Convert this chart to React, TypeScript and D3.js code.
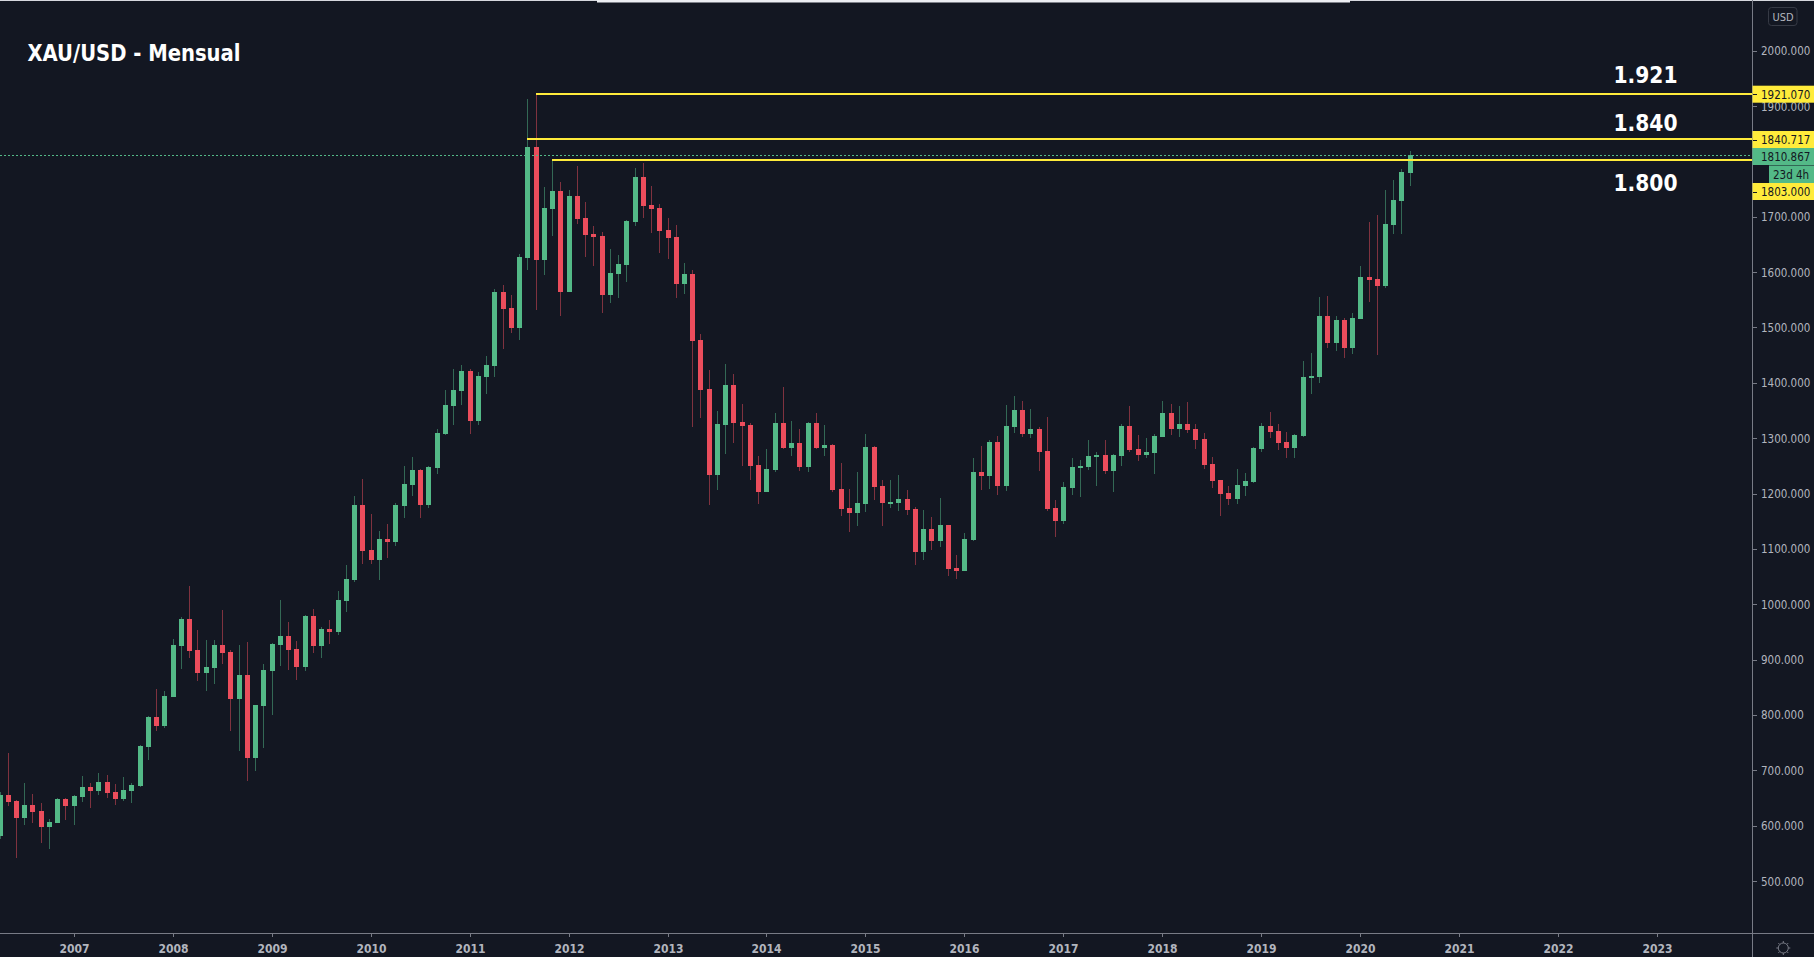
import React, { useEffect } from "react";
import * as d3 from "d3";

// Monthly candles, April 2006 to July 2020
const opens = [
  581, 655, 644.5, 614, 637.3, 626.4, 597.5, 604.7, 648,
  635.4, 651.7, 669.8, 662.5, 678.8, 660.7, 648, 662.5, 671.6, 742, 796.2, 780,
  832.4, 924.5, 973.3, 917.3, 875.7, 884.7, 926.3, 913.7, 828.7, 872.1, 722.2, 816,
  879.3, 926.3, 942.6, 919.1, 886.6, 978.7, 924.5, 955.2, 949.8, 1005.8, 1043.7, 1179.2,
  1097.9, 1079.9, 1117.8, 1112.4, 1177.4, 1215.3, 1242.4, 1179.2, 1246.1, 1307.5, 1358.1, 1385.2,
  1421.3, 1331, 1410.5, 1430.3, 1564, 1535, 1499, 1625.5, 1826, 1621.9, 1714, 1746.5,
  1564, 1737.5, 1697.7, 1668.8, 1665.2, 1558.6, 1596.6, 1612.8, 1690.5, 1771.8, 1721.2, 1715.8,
  1676, 1663.4, 1578.5, 1596.6, 1477.3, 1388.8, 1233.4, 1323.8, 1396, 1329.2, 1323.8, 1251.5,
  1202.7, 1242.5, 1327.4, 1282.2, 1291.3, 1247.9, 1327.4, 1282.2, 1287.6, 1208.1, 1173.8, 1164.8,
  1181.1, 1284, 1213.6, 1182.9, 1182.9, 1190.1, 1172, 1094.3, 1135.9, 1114.2, 1143.1, 1065.4,
  1060, 1116, 1238.9, 1231.6, 1293.1, 1213.5, 1320.1, 1350.8, 1307.5, 1316.5, 1276.8, 1173.8,
  1150.3, 1210, 1246.1, 1247.9, 1265.9, 1269.5, 1240.6, 1267.7, 1321.9, 1280.4, 1269.5, 1273.2,
  1302.1, 1345.4, 1316.5, 1325.5, 1316.5, 1298.4, 1253.3, 1224.4, 1200.9, 1190.1, 1213.5, 1220.8,
  1280.4, 1321.9, 1312.9, 1293, 1282.2, 1303.9, 1408.7, 1410.5, 1520.7, 1471.9, 1513.4, 1462.9,
  1515.2, 1591.1, 1587.5, 1574.9, 1685.1, 1728.4, 1779,
];
const highs = [
  660, 731, 646, 677, 657, 640.9, 612, 649.9, 649.9,
  655.3, 689.6, 677, 695, 691.4, 675.2, 687.8, 677, 745.6, 798, 846.8, 843.2,
  937.1, 976.9, 1033, 953.4, 935.3, 935.3, 989.5, 917.3, 926.3, 931.7, 818, 892,
  930, 1007.6, 967.9, 933.5, 980.5, 991.3, 958.8, 971.5, 1023.9, 1070.8, 1195.5, 1226.2,
  1162.9, 1132.2, 1144.9, 1182.8, 1249.7, 1265.9, 1244.3, 1249.7, 1316.5, 1387, 1424.9, 1432.1,
  1424.9, 1419.5, 1448.4, 1569.4, 1576.7, 1558.6, 1632.7, 1912.7, 1921.7, 1753.7, 1802.5, 1762.8,
  1748.3, 1791.7, 1726.6, 1683.3, 1672.4, 1641.7, 1630.9, 1694.1, 1788.1, 1797.1, 1755.5, 1723,
  1697.7, 1685.1, 1616.4, 1603.8, 1488.1, 1423.1, 1349, 1434, 1415.9, 1361.7, 1327.4, 1267.8,
  1280.4, 1345.5, 1392.4, 1331, 1316.5, 1329.2, 1345.5, 1323.8, 1289.4, 1255.1, 1208.1, 1238.9,
  1307.5, 1285.8, 1224.4, 1224.4, 1233.4, 1206.3, 1175.6, 1170.2, 1157.6, 1191.9, 1143.1, 1088.9,
  1128.7, 1264.2, 1285.8, 1296.7, 1303.9, 1359.9, 1376.1, 1367.1, 1352.6, 1320.1, 1338.2, 1188.2,
  1220.8, 1264.1, 1260.5, 1296.6, 1275, 1296.6, 1271.3, 1325.5, 1358.1, 1305.7, 1300.3, 1307.5,
  1367.1, 1361.7, 1358.1, 1365.3, 1325.5, 1309.3, 1265.9, 1224.4, 1213.5, 1244.2, 1237, 1284,
  1327.3, 1347.2, 1325.5, 1311.1, 1307.5, 1439.4, 1453.8, 1555, 1556.8, 1520.7, 1517, 1526.1,
  1611, 1690.5, 1703.1, 1748.3, 1766.4, 1786.2, 1818.8,
];
const lows = [
  575, 635.4, 541.5, 601, 604.7, 568.6, 557.8, 604.7, 610,
  601, 642.7, 631.8, 655.3, 649.9, 637.2, 644.5, 640.9, 669.8, 718.5, 770.9, 776.3,
  832, 882.9, 902.8, 861.3, 843.2, 855.8, 892, 770.9, 734.8, 680.6, 698.7, 740.2,
  799.8, 888.4, 881.1, 863.1, 879.3, 911.8, 902.8, 928.1, 944.4, 985.9, 1040.1, 1072.6,
  1072.6, 1043.7, 1083.5, 1105.1, 1155.7, 1195.5, 1155.7, 1173.8, 1235.2, 1305.7, 1323.7, 1359.9,
  1307.5, 1323.7, 1379.8, 1410.5, 1461, 1490.6, 1477.4, 1603.8, 1531.5, 1594.7, 1665.2, 1520.7,
  1564, 1686.9, 1627.3, 1611, 1526.1, 1544.2, 1553.2, 1582.1, 1683.3, 1697.7, 1670.6, 1634.5,
  1623.7, 1553.2, 1560.4, 1320.2, 1336.4, 1179.2, 1206.3, 1271.4, 1291.3, 1249.7, 1224.4, 1181,
  1202.7, 1238.9, 1280.4, 1267.8, 1240.7, 1238.9, 1280.4, 1267.8, 1202.7, 1159.4, 1130.5, 1141.3,
  1166.6, 1188.3, 1141.3, 1173.8, 1168.4, 1161.2, 1070.8, 1079.9, 1098, 1103.4, 1051, 1045.6,
  1060, 1114.2, 1206.3, 1208.1, 1197.3, 1204.5, 1309.3, 1302.1, 1300.3, 1240.6, 1168.4, 1121.4,
  1144.9, 1197.3, 1193.7, 1242.4, 1213.5, 1235.2, 1202.7, 1249.7, 1275, 1258.7, 1264.1, 1235.2,
  1302.1, 1305.7, 1302.1, 1309.3, 1280.4, 1244.2, 1209.9, 1159.3, 1179.2, 1181, 1195.5, 1219,
  1275, 1300.3, 1278.6, 1264.1, 1264.1, 1302, 1379.8, 1399.6, 1462.9, 1457.4, 1444.8, 1452,
  1515.2, 1546, 1450.2, 1571.3, 1668.8, 1668.8, 1755.5,
];
const closes = [
  655, 642.7, 613.8, 637.3, 624.6, 597.5, 606.5, 648, 635.4,
  653.5, 669.8, 662.5, 678.8, 658.9, 648, 664.3, 673.4, 743.8, 796.2, 780, 834.2,
  926.3, 973.3, 915.5, 875.7, 886.6, 926.3, 911.8, 828.7, 872.1, 722.2, 817.9, 881.1,
  928.1, 942.6, 917.3, 886.6, 978.7, 924.5, 955.2, 949.8, 1007.6, 1045.5, 1179.2, 1096.1,
  1079.9, 1117.8, 1112.4, 1179.2, 1217.1, 1242.4, 1179.2, 1247.9, 1309.3, 1359.9, 1387, 1421.3,
  1331, 1412.3, 1432.1, 1564, 1533.3, 1499, 1627.3, 1826, 1621.9, 1715.8, 1746.5, 1564,
  1737.5, 1695.9, 1667, 1663.4, 1558.6, 1598.4, 1614.6, 1692.3, 1771.8, 1719.4, 1714, 1674.2,
  1661.6, 1578.5, 1596.6, 1475.5, 1387, 1233.4, 1325.6, 1396, 1327.4, 1322, 1249.7, 1202.7,
  1244.3, 1327.4, 1282.2, 1291.3, 1247.9, 1327.4, 1282.2, 1287.6, 1206.3, 1172, 1164.8, 1182.9,
  1284, 1211.8, 1182.9, 1184.7, 1190.1, 1170.2, 1094.3, 1135.9, 1114.2, 1143.1, 1063.6, 1060,
  1117.8, 1238.9, 1231.6, 1293.1, 1213.6, 1321.9, 1350.8, 1307.5, 1316.5, 1275, 1172, 1150.3,
  1211.7, 1247.9, 1249.7, 1267.7, 1269.5, 1240.6, 1269.5, 1321.9, 1278.6, 1269.5, 1275, 1303.9,
  1345.4, 1316.5, 1325.5, 1314.7, 1296.6, 1251.5, 1222.6, 1199.1, 1190.1, 1215.3, 1222.6, 1282.2,
  1321.9, 1311.1, 1291.2, 1282.2, 1305.7, 1410.5, 1412.3, 1520.7, 1471.9, 1513.4, 1462.9, 1517,
  1591.1, 1585.7, 1574.9, 1686.9, 1730.2, 1780.8, 1810.9,
];

// 1800.000 is hidden behind the last-price tag in the reference
const priceTicks = [2000, 1900, 1700, 1600, 1500, 1400, 1300, 1200, 1100, 1000, 900, 800, 700, 600, 500];
const yearTicks = [2007, 2008, 2009, 2010, 2011, 2012, 2013, 2014, 2015, 2016, 2017, 2018, 2019, 2020, 2021, 2022, 2023];

const levelPrices = [1921.07, 1840.717, 1803];
const levelLabels = ["1921.070", "1840.717", "1803.000"];
const levelStartMonths = [65, 64, 67];
const levelLabelCentres = [94.2, 139.5, 191.5];
const noteTexts = ["1.921", "1.840", "1.800"];
const noteBaselines = [83, 131, 190.7];
const lastPrice = 1810.867;

const W = 1814, H = 957, AXIS_X = 1752, AXIS_Y = 933;
const BG = "#131722", UP = "#53b987", DOWN = "#eb4d5c", YEL = "#ffeb3b", AX = "#787b86", TXT = "#b2b5be";
const FONT = "'DejaVu Sans Condensed','DejaVu Sans',sans-serif";

const x = d3.scaleLinear().domain([0, 1]).range([0, 8.247]);
const y = d3.scaleLinear().domain([500, 2000]).range([881, 50.7]);

export default function App() {
  useEffect(() => { document.body.style.margin = "0"; document.body.style.background = BG; }, []);
  const monthOfYear = (yr: number) => 9 + 12 * (yr - 2007);
  return (
    <svg width={W} height={H} style={{ position: "fixed", left: 0, top: 0, display: "block" }} fontFamily={FONT}>
      <rect width={W} height={H} fill={BG} />
      <rect width={W} height={1} fill="#d6d8de" />
      <rect x={597} width={753} height={2.5} fill="#eceef2" />

      {opens.map((o, i) => {
        const c = closes[i];
        const px = Math.floor(x(i));
        const col = c >= o ? UP : DOWN;
        const top = Math.round(y(Math.max(o, c)));
        const bot = Math.round(y(Math.min(o, c)));
        const wt = Math.round(y(highs[i]));
        const wb = Math.round(y(lows[i]));
        return (
          <g key={i}>
            <rect x={px} y={wt} width={1} height={Math.max(1, wb - wt)} fill={col} opacity={0.5} shapeRendering="crispEdges" />
            <rect x={px - 2} y={top} width={5} height={Math.max(2, bot - top)} fill={col} shapeRendering="crispEdges" />
          </g>
        );
      })}

      <line x1={0} x2={AXIS_X} y1={Math.round(y(lastPrice)) + 0.5} y2={Math.round(y(lastPrice)) + 0.5}
        stroke={UP} strokeWidth={1} strokeDasharray="2 2" />
      {levelPrices.map((p, i) => (
        <rect key={p} x={Math.floor(x(levelStartMonths[i]))} y={Math.round(y(p)) - 1} width={AXIS_X - Math.floor(x(levelStartMonths[i]))} height={2} fill={YEL} />
      ))}

      <text x={27.5} y={61} fill="#ffffff" fontSize={23} fontWeight={700} textLength={213} lengthAdjust="spacingAndGlyphs">XAU/USD - Mensual</text>
      {noteTexts.map((t, i) => (
        <text key={t} x={1613.5} y={noteBaselines[i]} fill="#ffffff" fontSize={22.5} fontWeight={700}>{t}</text>
      ))}

      {/* price axis */}
      <rect x={AXIS_X} y={0} width={1} height={H} fill={AX} />
      <rect x={0} y={AXIS_Y} width={W} height={1} fill={AX} />
      {priceTicks.map((p) => (
        <g key={p}>
          <rect x={AXIS_X + 1} y={Math.round(y(p))} width={4} height={1} fill={AX} />
          <text x={1761} y={y(p) + 4.5} fill={TXT} fontSize={11.5}>{p.toFixed(3)}</text>
        </g>
      ))}
      {levelLabels.map((l, i) => (
        <g key={l}>
          <rect x={AXIS_X + 0.5} y={levelLabelCentres[i] - 8.5} width={W - AXIS_X} height={17} fill={YEL} />
          <rect x={AXIS_X + 1} y={Math.round(levelLabelCentres[i])} width={4} height={1} fill="#131722" />
          <text x={1761} y={levelLabelCentres[i] + 4.5} fill="#131722" fontSize={11.5}>{l}</text>
        </g>
      ))}
      <rect x={AXIS_X + 0.5} y={148} width={W - AXIS_X} height={17} fill={UP} />
      <text x={1761} y={161} fill="#131722" fontSize={11.5}>{lastPrice.toFixed(3)}</text>
      <rect x={1769} y={165.5} width={45} height={17.5} fill={UP} />
      <text x={1773} y={178.5} fill="#131722" fontSize={11.5}>23d 4h</text>

      <rect x={1768.5} y={7.5} width={28.5} height={18} rx={3} fill="none" stroke="#363a45" />
      <text x={1783} y={20.5} textAnchor="middle" fill={TXT} fontSize={11}>USD</text>

      {/* time axis */}
      {yearTicks.map((yr) => {
        const px = Math.floor(x(monthOfYear(yr)));
        return (
          <g key={yr}>
            <rect x={px} y={AXIS_Y + 1} width={1} height={3} fill={AX} />
            <text x={px + 0.5} y={952.5} textAnchor="middle" fill={TXT} fontSize={12} fontWeight={700}>{yr}</text>
          </g>
        );
      })}

      {/* settings icon */}
      <g stroke={AX} fill="none" strokeWidth={1}>
        <circle cx={1783.3} cy={948} r={5} />
        {d3.range(8).map((k) => {
          const a = (k * Math.PI) / 4;
          return <line key={k} x1={1783.3 + 5 * Math.cos(a)} y1={948 + 5 * Math.sin(a)} x2={1783.3 + 7 * Math.cos(a)} y2={948 + 7 * Math.sin(a)} />;
        })}
      </g>
    </svg>
  );
}
